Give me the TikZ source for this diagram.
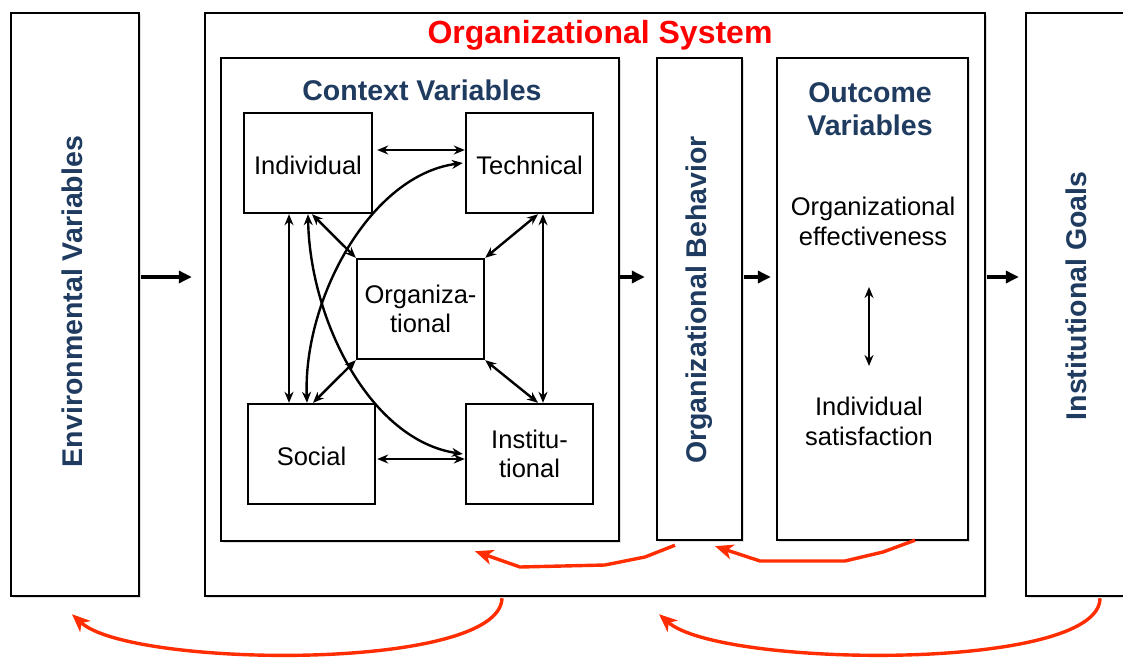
\documentclass[tikz,border=0pt]{standalone}
\usepackage{fontspec}
\setmainfont{Liberation Sans}
\usetikzlibrary{arrows.meta,shadows}
\definecolor{navy}{HTML}{1F3B5F}
\definecolor{redarr}{HTML}{FF2D00}
\begin{document}
\begin{tikzpicture}[x=1pt,y=-1pt,
  box/.style={draw=black, line width=2.4pt, fill=white, inner sep=0pt,
    drop shadow={opacity=0.25, shadow xshift=1.5pt, shadow yshift=-1.5pt}},
  ibox/.style={draw=black, line width=2.4pt, fill=white, inner sep=0pt,
    minimum width=127pt, minimum height=100pt, align=center,
    font=\fontsize{25.5}{29.5}\selectfont},
  low/.style={text height=22.6pt, text depth=0pt},
  title/.style={text=navy, font=\fontsize{28.5}{33}\selectfont\bfseries, align=center},
  plain/.style={font=\fontsize{25.5}{30}\selectfont, align=center},
  bigarr/.style={line width=3.4pt, -{Triangle[length=13pt,width=12pt]}},
  dbl/.style={line width=2.4pt, {Stealth[length=11pt,width=9pt]}-{Stealth[length=11pt,width=9pt]}},
  redarrow/.style={draw=redarr, line width=3.4pt, line join=round,
    -{Stealth[length=18pt,width=15pt,inset=5pt]}}
]
\useasboundingbox (0,0) rectangle (1123,659);
\clip (0,0) rectangle (1123,659);
\fill[white] (0,0) rectangle (1123,659);

% big boxes
\node[box, minimum width=128pt, minimum height=583pt] (env) at (75,304.5) {};
\node[box, minimum width=780pt, minimum height=583pt] (sys) at (595,304.5) {};
\node[box, minimum width=109pt, minimum height=583pt] (goal) at (1080.5,304.5) {};
\node[box, minimum width=398pt, minimum height=483pt] (ctx) at (420,299.5) {};
\node[box, minimum width=85pt, minimum height=482pt] (ob) at (699.5,299) {};
\node[box, minimum width=191pt, minimum height=482pt] (out) at (872.5,299) {};

% titles
\node[title, rotate=90] (envt) at (72,301.5) {Environmental Variables};
\node[title, rotate=90] (obt) at (699,300) {Organizational Behavior};
\node[title, rotate=90] (goalt) at (1076,296) {Institutional Goals};
\node[text=red, font=\fontsize{32}{38}\selectfont\bfseries] (syst) at (600,35) {Organizational System};
\node[title] (ctxt) at (422,90) {Context Variables};
\node[title] (outt) at (870,109.5) {Outcome\\Variables};
\node[plain] (eff) at (873,221) {Organizational\\effectiveness};
\node[plain] (sat) at (869,421.5) {Individual\\satisfaction};

% inner boxes
\node[ibox, low, minimum width=128pt] (ind) at (308,163) {Individual};
\node[ibox, low] (tech) at (529.5,163) {Technical};
\node[ibox] (org) at (420.5,309) {Organiza-\\tional};
\node[ibox, low] (soc) at (311.5,454) {Social};
\node[ibox] (inst) at (529.5,454) {Institu-\\tional};

% inner connectors
\draw[dbl] ([xshift=4pt,yshift=13pt]ind.east) -- ([yshift=13pt]tech.west);
\draw[dbl] ([xshift=1pt,yshift=-5pt]soc.east) -- ([yshift=-5pt]inst.west);
\draw[dbl] ([xshift=-19pt]ind.south) -- ([xshift=-22.5pt]soc.north);
\draw[dbl] ([xshift=13.5pt]tech.south) -- ([xshift=13.5pt]inst.north);
\draw[dbl] ([xshift=4pt]ind.south) -- (org.north west);
\draw[dbl] ([xshift=8.5pt]tech.south) -- (org.north east);
\draw[dbl] (org.south west) -- ([xshift=1.5pt]soc.north);
\draw[dbl] (org.south east) -- ([xshift=8.5pt]inst.north);
\draw[dbl] ([xshift=-4.5pt]soc.north) .. controls (303,300) and (370,175) .. ([xshift=-2pt]tech.west);
\draw[dbl] (ind.south) .. controls (310,320) and (370,440) .. ([xshift=-2pt]inst.west);

% outcome double arrow
\coordinate (oa) at (869,287);
\coordinate (ob2) at (869,366);
\draw[dbl] (oa) -- (ob2);

% main flow arrows
\draw[bigarr] ([xshift=1pt,yshift=27.5pt]env.east) -- ([xshift=-12pt,yshift=27.5pt]sys.west);
\draw[bigarr] ([xshift=-1pt,yshift=22.5pt]ctx.east) -- ([xshift=-11pt,yshift=22pt]ob.west);
\draw[bigarr] ([xshift=1pt,yshift=22pt]ob.east) -- ([xshift=-5pt,yshift=22pt]out.west);
\draw[bigarr] ([xshift=1pt,yshift=27.5pt]sys.east) -- ([xshift=-6pt,yshift=27.5pt]goal.west);

% red feedback arrows
\draw[redarrow] ([xshift=-24.5pt,yshift=-4pt]ob.south) -- (645,557) -- (605,565) -- (520,567) -- ([xshift=55pt,yshift=-9pt]ctx.south);
\draw[redarrow] ([xshift=42.5pt,yshift=1pt]out.south) -- (883,552) -- (845,561) -- (760,561) -- ([xshift=15.5pt,yshift=-5pt]ob.south);
\draw[redarrow] ([xshift=-93pt,yshift=-1pt]sys.south) .. controls (500,672) and (130,668) .. ([xshift=-3pt,yshift=-17pt]env.south);
\draw[redarrow] ([xshift=19.5pt,yshift=-1pt]goal.south) .. controls (1100,672) and (720,668) .. ([xshift=64pt,yshift=-17pt]sys.south);
\end{tikzpicture}
\end{document}
